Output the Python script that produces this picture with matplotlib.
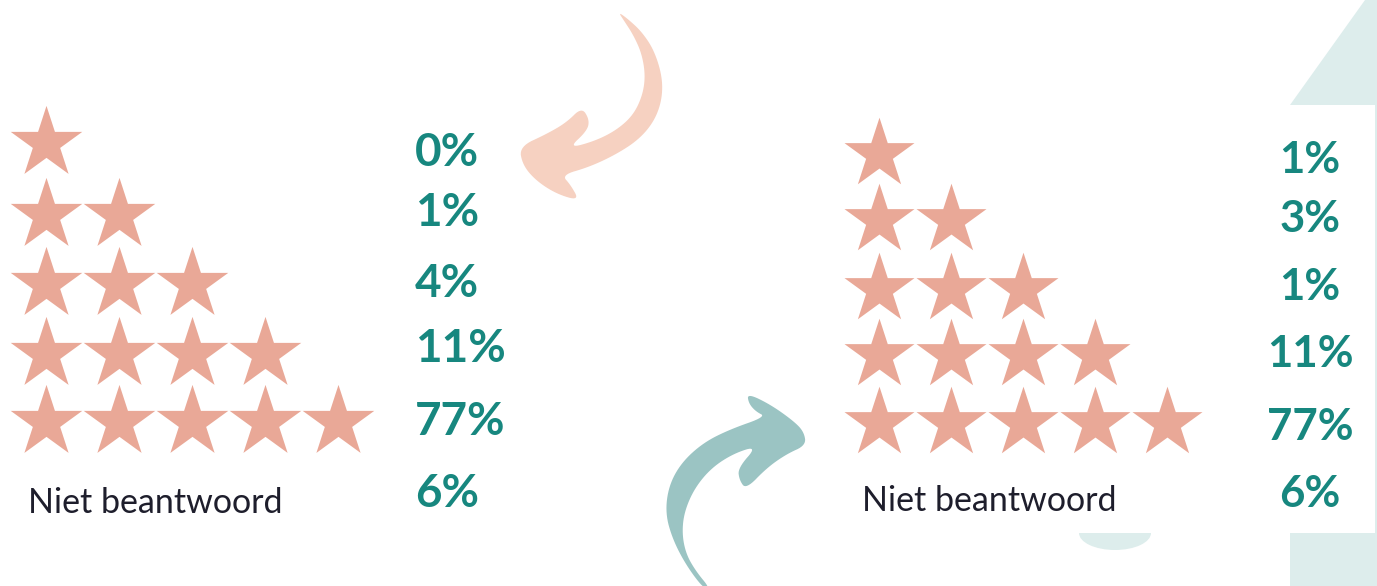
import numpy as np
import matplotlib.pyplot as plt
from matplotlib.patches import Polygon, Rectangle, Ellipse

# --- data ---
ratings = [1, 2, 3, 4, 5]
pct_left = [0, 1, 4, 11, 77]
no_answer_left = 6
pct_right = [1, 3, 1, 11, 77]
no_answer_right = 6
no_answer_label = "Niet beantwoord"

# --- colours ---
STAR = "#E9A897"
TEAL_TXT = "#17877F"
DARK_TXT = "#1E1E2C"
ARROW_TOP = "#F6D1C1"
ARROW_BOT = "#9BC4C3"
BG_TEAL = "#DDEDEC"

W, H = 1377, 586
DPI = 100

fig = plt.figure(figsize=(W / DPI, H / DPI), dpi=DPI)
ax = fig.add_axes([0, 0, 1, 1])
ax.set_xlim(0, W)
ax.set_ylim(H, 0)
ax.axis("off")

# background shapes on the right
ax.add_patch(Polygon([(1290, 105), (1365, 0), (W, 0), (W, H), (1290, H)],
                     closed=True, color=BG_TEAL, lw=0, zorder=0))
ax.add_patch(Ellipse((1115, 533), 72, 34, color=BG_TEAL, lw=0, zorder=0))
ax.add_patch(Rectangle((820, 105), 555, 428, color="white", lw=0, zorder=1))


def panel(x0, dx, row_y, radius, pcts, no_answer, pct_x, pct_ha, pct_base,
          pct_size, label_x, label_base):
    ms = 2 * radius * 72 / DPI
    for n, y in zip(ratings, row_y):
        xs = x0 + dx * np.arange(n)
        ax.scatter(xs, [y] * n, marker="*", s=ms ** 2, color=STAR,
                   linewidths=0, zorder=3)
    for p, yb in zip(pcts + [no_answer], pct_base):
        ax.text(pct_x, yb, f"{p}%", ha=pct_ha, va="baseline", color=TEAL_TXT,
                fontsize=pct_size, fontweight="bold", family="Lato", zorder=4)
    ax.text(label_x, label_base, no_answer_label, ha="left", va="baseline",
            color=DARK_TXT, fontsize=24.5, family="Lato", zorder=4)


panel(46, 73, [142.6, 214.6, 283.6, 353.6, 421.6], 37.6,
      pct_left, no_answer_left, 415, "left",
      [166, 226, 297, 362, 435, 507], 33, 28, 513)
panel(879, 72, [153.8, 219.8, 288.8, 354.8, 422.8], 36.8,
      pct_right, no_answer_right, 1310, "center",
      [173, 232, 300, 367, 440, 507], 31.5, 862, 511)


def chaikin(pts, n_iter=3):
    # corner cutting to round off the traced outline
    p = np.asarray(pts, dtype=float)
    for _ in range(n_iter):
        q = np.roll(p, -1, axis=0)
        p = np.vstack([0.75 * p + 0.25 * q, 0.25 * p + 0.75 * q])
        p = p.reshape(2, -1, 2).transpose(1, 0, 2).reshape(-1, 2)
    return p


# decorative arrows (shape)
top_arrow = [(355, 36), (385, 58), (425, 95), (462, 150), (487, 230),
             (486, 300), (462, 365), (415, 420), (345, 465), (265, 502),
             (185, 525), (212, 555), (238, 602), (170, 582), (108, 542),
             (68, 495), (58, 440), (140, 402), (200, 367), (245, 322),
             (268, 358), (262, 392), (205, 445), (285, 423), (350, 390),
             (400, 345), (428, 285), (436, 225), (425, 160), (400, 105),
             (372, 62)]
bot_arrow = [(190, 625), (138, 555), (98, 478), (76, 400), (86, 318),
             (124, 248), (190, 188), (270, 148), (378, 110), (348, 95),
             (326, 70), (322, 40), (392, 74), (462, 124), (492, 156),
             (498, 196), (440, 222), (380, 264), (318, 328), (298, 300),
             (294, 264), (352, 198), (282, 220), (215, 263), (164, 324),
             (133, 395), (126, 460), (138, 522), (168, 574), (210, 625)]

ax.add_patch(Polygon(chaikin(top_arrow) / 3 + [500, 0], closed=True,
                     color=ARROW_TOP, lw=0, zorder=2))
ax.add_patch(Polygon(chaikin(bot_arrow) / 3 + [640, 380], closed=True,
                     color=ARROW_BOT, lw=0, zorder=2))

fig.savefig("out.png", dpi=DPI, facecolor="white")
